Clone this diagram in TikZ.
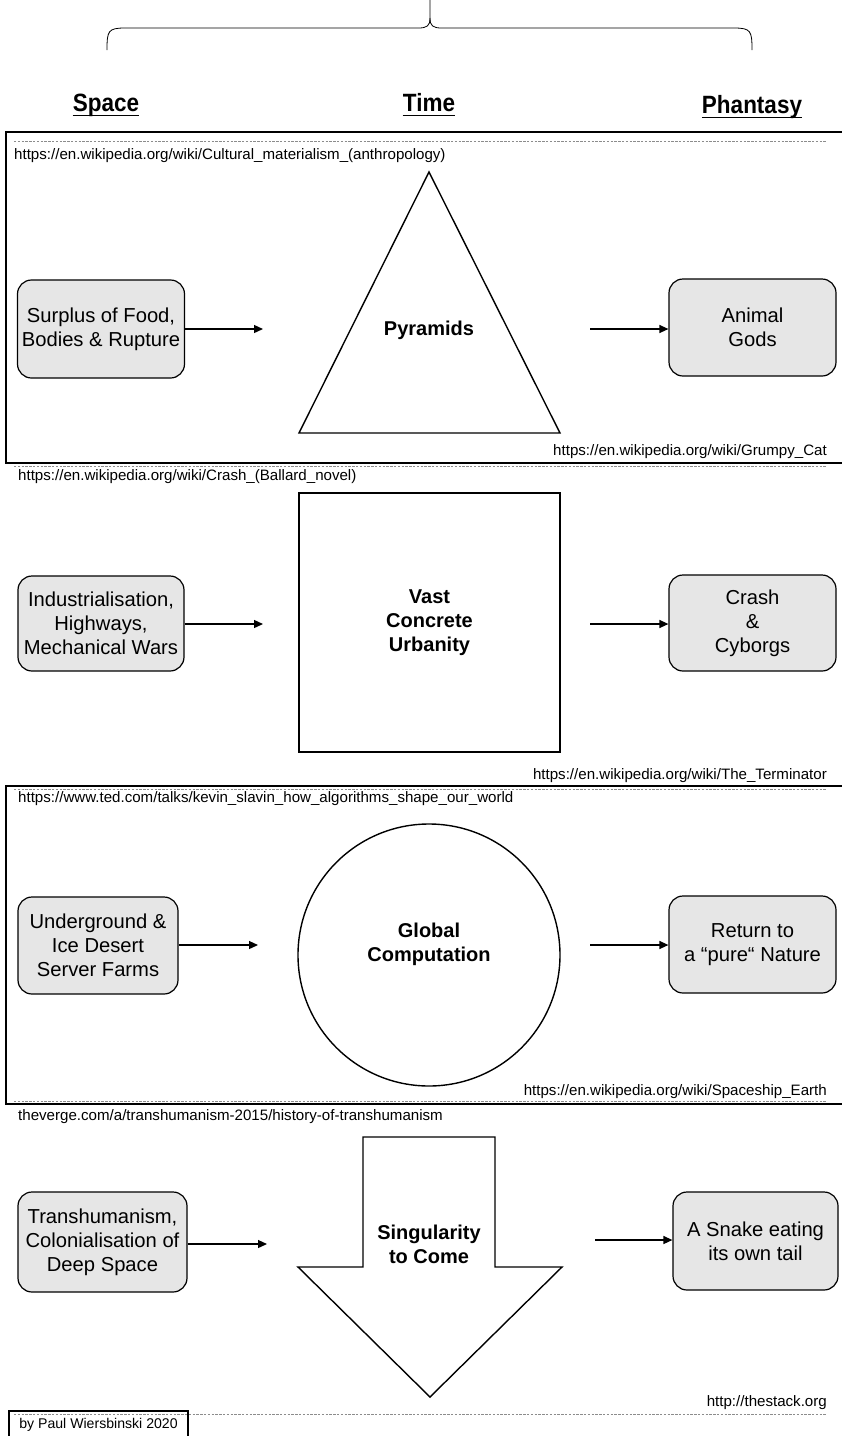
\documentclass[tikz,border=0pt]{standalone}
\usepackage{fontspec}
\setmainfont{Liberation Sans}
\newfontfamily\headfont[FakeStretch=0.9]{Liberation Sans}
\usetikzlibrary{arrows.meta}
\definecolor{boxgray}{HTML}{E6E6E6}
\definecolor{dashgray}{HTML}{8C8C8C}
\tikzset{
  sbox/.style={draw, rounded corners=14pt, fill=boxgray, line width=1.2pt, align=center,
    font=\fontsize{20.2}{24}\selectfont, inner sep=0pt},
  center/.style={align=center, font=\fontsize{20}{24}\selectfont\bfseries, inner sep=0pt},
  shape line/.style={line width=1.4pt},
  conn/.style={line width=1.3pt, -{Triangle[length=9pt,width=8pt]}},
  url/.style={font=\fontsize{15.1}{17}\selectfont, inner sep=0pt},
  head/.style={font=\headfont\fontsize{25}{28}\selectfont\bfseries, inner sep=0pt, anchor=base},
  frame/.style={line width=2.2pt},
  sep/.style={dashgray, line width=0.9pt, dash pattern=on 2.4pt off 1.4pt},
}
\begin{document}
\begin{tikzpicture}[x=1pt,y=-1pt]
\useasboundingbox (0,0) rectangle (842,1436);

% brace
\draw[line width=0.8pt] (107,50) .. controls (107,31) and (108,28) .. (125,28) -- (418,28)
  .. controls (427,28) and (430,26) .. (430,18) -- (430,0);
\draw[line width=0.8pt] (430,18) .. controls (430,26) and (433,28) .. (442,28) -- (734,28)
  .. controls (751,28) and (752,31) .. (752,50);

% headings
\node[head] (hspace) at (106,111) {Space};
\node[head] (htime) at (429,111) {Time};
\node[head] (hphan) at (752,113) {Phantasy};
\foreach \h in {hspace,htime,hphan}{
  \draw[line width=1.8pt] ([yshift=-4.5pt]\h.base west) -- ([yshift=-4.5pt]\h.base east);
}

% ---------- section 1 ----------
\draw[frame] (6,132) rectangle (860,463);
\draw[sep] (14,141) -- (826,141);
\node[url, anchor=west] (u1) at (14,156) {https://en.wikipedia.org/wiki/Cultural\_materialism\_(anthropology)};
\coordinate (tA) at (429,172);
\coordinate (tB) at (299,433);
\coordinate (tC) at (560,433);
\draw[shape line, line join=miter] (tA) -- (tB) -- (tC) -- cycle;
\node[center] (pyr) at (429,330) {Pyramids};
\node[sbox, minimum width=167pt, minimum height=98pt] (b1l) at (101,329) {Surplus of Food,\\Bodies \& Rupture};
\node[sbox, minimum width=167pt, minimum height=97pt] (b1r) at (752.5,327.5) {Animal\\Gods};
\coordinate (a1e) at (263,329);
\coordinate (a1s) at (590,329);
\draw[conn] (b1l.east) -- (a1e);
\draw[conn] (a1s) -- (b1r.west |- a1s);
\node[url, anchor=east] (u2) at (827,452) {https://en.wikipedia.org/wiki/Grumpy\_Cat};
\draw[sep] (14,466) -- (826,466);

% ---------- section 2 ----------
\node[url, anchor=west] (u3) at (18,477) {https://en.wikipedia.org/wiki/Crash\_(Ballard\_novel)};
\node[draw, shape line, minimum width=261pt, minimum height=259pt, inner sep=0pt] (sq) at (429.5,622.5) {};
\node[center] (vast) at (429.5,623) {Vast\\Concrete\\Urbanity};
\node[sbox, minimum width=166pt, minimum height=95pt] (b2l) at (101,623.5) {Industrialisation,\\Highways,\\Mechanical Wars};
\node[sbox, minimum width=167pt, minimum height=96pt] (b2r) at (752.5,623) {Crash\\\&\\Cyborgs};
\coordinate (a2e) at (263,624);
\coordinate (a2s) at (590,624);
\draw[conn] (b2l.east |- a2e) -- (a2e);
\draw[conn] (a2s) -- (b2r.west |- a2s);
\node[url, anchor=east] (u4) at (827,776) {https://en.wikipedia.org/wiki/The\_Terminator};

% ---------- section 3 ----------
\draw[frame] (6,786) rectangle (860,1104);
\draw[sep] (14,789) -- (826,789);
\node[url, anchor=west] (u5) at (18,799) {https://www.ted.com/talks/kevin\_slavin\_how\_algorithms\_shape\_our\_world};
\node[draw, circle, shape line, minimum size=262pt, inner sep=0pt] (circ) at (429,955) {};
\node[center] (glob) at (429,944) {Global\\Computation};
\node[sbox, minimum width=160pt, minimum height=97pt] (b3l) at (98,945.5) {Underground \&\\Ice Desert\\Server Farms};
\node[sbox, minimum width=167pt, minimum height=97pt] (b3r) at (752.5,944.5) {Return to\\a “pure“ Nature};
\coordinate (a3e) at (258,945);
\coordinate (a3s) at (590,945);
\draw[conn] (b3l.east |- a3e) -- (a3e);
\draw[conn] (a3s) -- (b3r.west |- a3s);
\node[url, anchor=east] (u6) at (827,1092) {https://en.wikipedia.org/wiki/Spaceship\_Earth};
\draw[sep] (14,1101) -- (826,1101);

% ---------- section 4 ----------
\node[url, anchor=west] (u7) at (18,1117) {theverge.com/a/transhumanism-2015/history-of-transhumanism};
\draw[shape line, line join=miter] (363,1137) -- (495,1137) -- (495,1267) -- (562,1267)
  -- (430,1397) -- (298,1267) -- (363,1267) -- cycle;
\node[center] (sing) at (429,1244) {Singularity\\to Come};
\node[sbox, minimum width=169pt, minimum height=100pt] (b4l) at (102.5,1242) {Transhumanism,\\Colonialisation of\\Deep Space};
\node[sbox, minimum width=165pt, minimum height=98pt] (b4r) at (755.5,1241) {A Snake eating\\its own tail};
\coordinate (a4e) at (267,1244);
\coordinate (a4s) at (595,1240);
\draw[conn] (b4l.east |- a4e) -- (a4e);
\draw[conn] (a4s) -- (b4r.west |- a4s);
\node[url, anchor=east] (u8) at (827,1403) {http://thestack.org};
\draw[sep] (14,1414) -- (826,1414);
\draw[frame, line width=2pt] (9,1411) rectangle (188,1445);
\node[url, font=\fontsize{14.1}{17}\selectfont] (credit) at (98.5,1425) {by Paul Wiersbinski 2020};
\end{tikzpicture}
\end{document}
